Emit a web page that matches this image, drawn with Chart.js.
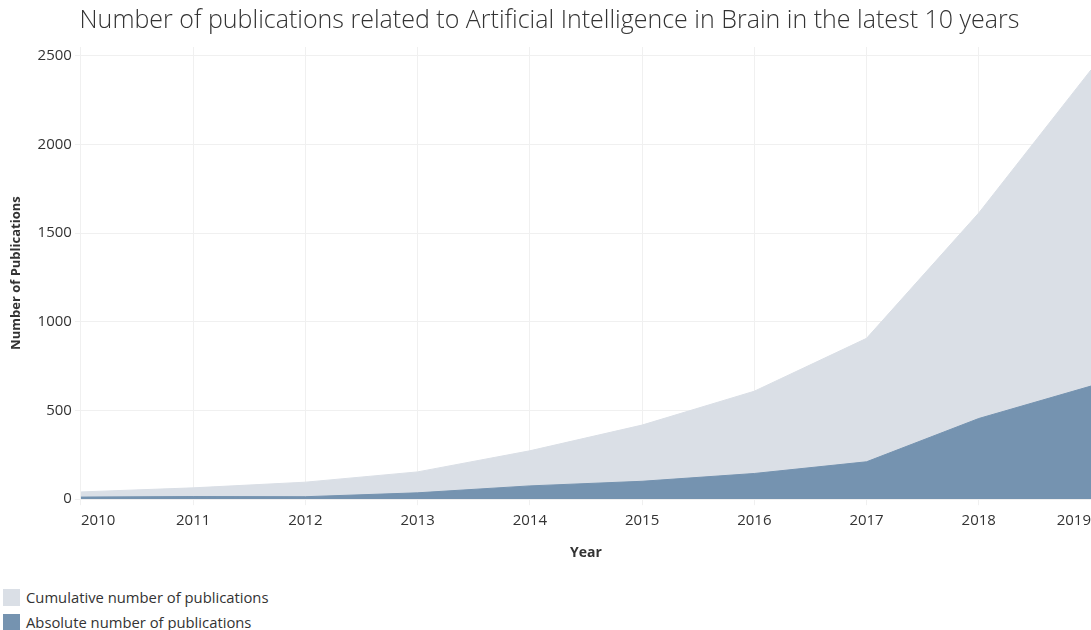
<!DOCTYPE html>
<html>
<head>
<meta charset="utf-8">
<script src="https://cdn.jsdelivr.net/npm/chart.js@4/dist/chart.umd.min.js"></script>
<style>
  body { margin: 0; background: #fff; font-family: 'Open Sans', sans-serif; }
  #wrap { position: relative; width: 1091px; height: 630px; overflow: hidden; }
  .leg { position: absolute; left: 3px; display: flex; align-items: center; font-size: 14.8px; color: #333; }
  .leg span.sw { display: inline-block; width: 17px; height: 17px; margin-right: 6px; }
</style>
</head>
<body>
<div id="wrap">
  <canvas id="myCanvas" width="1091" height="562"></canvas>
  <div class="leg" style="top:587px"><span class="sw" style="background:#dadfe6"></span>Cumulative number of publications</div>
  <div class="leg" style="top:612px"><span class="sw" style="background:#7593b0"></span>Absolute number of publications</div>
</div>
<script>
var years = ['2010', '2011', '2012', '2013', '2014', '2015', '2016', '2017', '2018', '2019']
var cumulative = [41, 64, 96, 154, 273, 418, 609, 907, 1614, 2421]
var absolute = [12, 15, 14, 36, 75, 101, 145, 211, 455, 638]
var yTicks = [0, 500, 1000, 1500, 2000, 2500]

var ctx = document.getElementById('myCanvas')
new Chart(ctx, {
    type: 'line',
    data: {
        labels: years,
        datasets: [{
            label: 'Absolute number of publications',
            data: absolute,
            fill: 'origin',
            backgroundColor: '#7593b0',
            borderColor: '#7593b0',
            borderWidth: 1,
            pointRadius: 0,
            order: 0
        }, {
            label: 'Cumulative number of publications',
            data: cumulative,
            fill: 'origin',
            backgroundColor: '#dadfe6',
            borderColor: '#dadfe6',
            borderWidth: 1,
            pointRadius: 0,
            order: 1
        }]
    },
    options: {
        responsive: false,
        animation: false,
        layout: { padding: { left: 8, right: 0, top: 0, bottom: 0 } },
        plugins: {
            legend: { display: false },
            tooltip: { enabled: false },
            title: {
                display: true,
                text: 'Number of publications related to Artificial Intelligence in Brain in the latest 10 years',
                color: '#333',
                font: { family: 'Open Sans', size: 25, weight: 300 },
                padding: { top: 6, bottom: 11 }
            }
        },
        scales: {
            x: {
                offset: false,
                afterFit: function(axis) {
                    // keep the plot running to the right edge like the original
                    axis.paddingRight = 0
                    axis.paddingLeft = 0
                },
                grid: { color: '#f0f0f0', tickLength: 6 },
                border: { display: false },
                ticks: { color: '#333', align: 'inner', maxRotation: 0, font: { family: 'Open Sans', size: 15 }, padding: 7 },
                title: { display: true, text: 'Year', color: '#333', font: { family: 'Open Sans', size: 14, weight: 'bold' }, padding: { top: 7, bottom: 1 } }
            },
            y: {
                min: 0,
                max: 2550,
                afterBuildTicks: function(axis) {
                    axis.ticks = yTicks.map(function(v) { return { value: v } })
                },
                grid: { color: '#f0f0f0', tickLength: 6 },
                border: { display: false },
                ticks: {
                    color: '#333',
                    font: { family: 'Open Sans', size: 15 },
                    padding: 3,
                    callback: function(v) { return String(v) }
                },
                title: { display: true, text: 'Number of Publications', color: '#333', font: { family: 'Open Sans', size: 13, weight: 'bold' }, padding: { top: 0, bottom: 11 } }
            }
        }
    }
})
</script>
</body>
</html>
